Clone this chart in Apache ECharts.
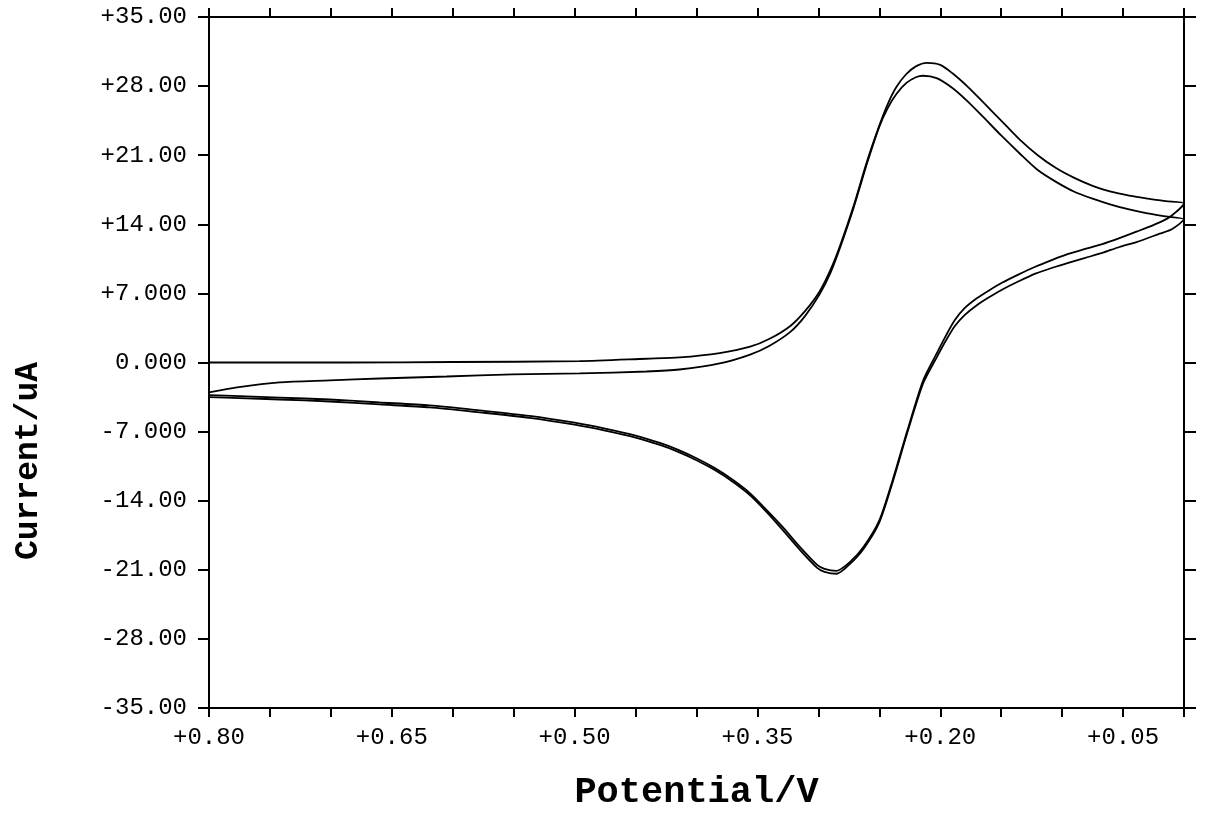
<!DOCTYPE html>
<html>
<head>
<meta charset="utf-8">
<title>Cyclic voltammogram</title>
<script src="https://cdn.jsdelivr.net/npm/echarts@6/dist/echarts.min.js"></script>
<style>
  html, body { margin: 0; padding: 0; background: #fff; }
  #chart { width: 1208px; height: 832px; }
</style>
</head>
<body>
<div id="chart"></div>
<script>
// cycle 1: scan 0.80 -> 0.00 V, then back to 0.80 V
const cycle1Potential = [
  0.800, 0.725, 0.687, 0.600, 0.496, 0.441, 0.414, 0.381, 0.356, 0.340,
  0.323, 0.311, 0.299, 0.290, 0.282, 0.271, 0.260, 0.250, 0.243, 0.236,
  0.228, 0.220, 0.211, 0.200, 0.190, 0.178, 0.165, 0.150, 0.135, 0.120,
  0.105, 0.090, 0.075, 0.060, 0.045, 0.030, 0.015, 0.000,
  0.010, 0.020, 0.039, 0.053, 0.067, 0.081, 0.095, 0.108, 0.122, 0.136,
  0.149, 0.160, 0.170, 0.180, 0.188, 0.195, 0.203, 0.214, 0.227, 0.239,
  0.250, 0.263, 0.274, 0.285, 0.295, 0.301, 0.315, 0.329, 0.342, 0.356,
  0.370, 0.385, 0.400, 0.415, 0.430, 0.450, 0.475, 0.500, 0.537, 0.578,
  0.619, 0.660, 0.701, 0.742, 0.775, 0.800
];
const cycle1Current = [
  0.00, 0.00, 0.00, 0.05, 0.13, 0.38, 0.51, 0.95, 1.6, 2.4,
  3.7, 5.2, 7.2, 9.4, 11.9, 15.9, 20.4, 24.0, 26.2, 27.9,
  29.2, 30.0, 30.35, 30.15, 29.3, 28.0, 26.4, 24.5, 22.6, 21.0,
  19.7, 18.7, 17.9, 17.3, 16.9, 16.6, 16.35, 16.1,
  14.9, 14.2, 13.25, 12.6, 12.0, 11.5, 11.0, 10.4, 9.7, 8.9,
  8.1, 7.3, 6.5, 5.5, 4.3, 2.8, 0.9, -1.8, -6.9, -11.9,
  -16.0, -18.7, -20.2, -21.1, -20.9, -20.5, -18.7, -16.7, -15.0, -13.25,
  -11.9, -10.7, -9.7, -8.85, -8.15, -7.4, -6.7, -6.1, -5.4, -4.85,
  -4.35, -4.05, -3.75, -3.55, -3.4, -3.3
];

// cycle 2
const cycle2Potential = [
  0.800, 0.777, 0.742, 0.701, 0.660, 0.605, 0.551, 0.496, 0.441, 0.414,
  0.381, 0.356, 0.340, 0.323, 0.311, 0.299, 0.290, 0.282, 0.271, 0.260,
  0.250, 0.243, 0.236, 0.228, 0.220, 0.214, 0.203, 0.190, 0.178, 0.165,
  0.150, 0.135, 0.120, 0.105, 0.090, 0.075, 0.060, 0.045, 0.030, 0.015, 0.000,
  0.010, 0.020, 0.039, 0.053, 0.067, 0.081, 0.095, 0.108, 0.122, 0.136,
  0.149, 0.160, 0.170, 0.180, 0.188, 0.195, 0.203, 0.214, 0.227, 0.239,
  0.250, 0.263, 0.274, 0.285, 0.295, 0.301, 0.315, 0.329, 0.342, 0.356,
  0.370, 0.385, 0.400, 0.415, 0.430, 0.450, 0.475, 0.500, 0.537, 0.578,
  0.619, 0.660, 0.701, 0.742, 0.775, 0.800
];
const cycle2Current = [
  -3.03, -2.53, -2.02, -1.82, -1.62, -1.42, -1.21, -1.11, -0.91, -0.71,
  -0.1, 0.8, 1.7, 3.1, 4.7, 6.9, 9.1, 11.7, 15.7, 20.2,
  23.9, 25.8, 27.2, 28.3, 28.9, 29.05, 28.8, 27.8, 26.5, 24.9,
  23.0, 21.2, 19.5, 18.3, 17.3, 16.6, 16.0, 15.5, 15.1, 14.8, 14.5,
  13.5, 13.05, 12.2, 11.7, 11.1, 10.6, 10.1, 9.6, 9.0, 8.2,
  7.4, 6.6, 5.8, 4.8, 3.7, 2.3, 0.5, -2.1, -7.1, -12.1,
  -16.2, -18.9, -20.4, -21.4, -21.2, -20.8, -19.0, -17.0, -15.2, -13.45,
  -12.1, -10.9, -9.9, -9.05, -8.35, -7.6, -6.9, -6.3, -5.6, -5.05,
  -4.55, -4.25, -3.95, -3.75, -3.6, -3.5
];

const yTickLabels = {
  '-35': '-35.00', '-28': '-28.00', '-21': '-21.00', '-14': '-14.00', '-7': '-7.000',
  '0': '0.000', '7': '+7.000', '14': '+14.00', '21': '+21.00', '28': '+28.00', '35': '+35.00'
};
const xLabelValues = [0.80, 0.65, 0.50, 0.35, 0.20, 0.05];

const zip = (xs, ys) => xs.map((x, i) => [x, ys[i]]);

const chart = echarts.init(document.getElementById('chart'), null, { renderer: 'canvas' });

const tickFont = { fontFamily: 'Liberation Mono', fontSize: 24, color: '#000' };
const blackLine = { show: true, onZero: false, lineStyle: { color: '#000', width: 2 } };

const option = {
  backgroundColor: '#fff',
  animation: false,
  grid: { left: 209, right: 24, top: 17, bottom: 124, containLabel: false },
  xAxis: [
    {
      type: 'value',
      position: 'bottom',
      inverse: true,
      min: 0,
      max: 0.8,
      interval: 0.05,
      name: 'Potential/V',
      nameLocation: 'middle',
      nameGap: 66,
      nameTextStyle: { fontFamily: 'Liberation Mono', fontWeight: 'bold', fontSize: 37, color: '#000' },
      axisLine: blackLine,
      axisTick: { show: true, inside: false, length: 9, lineStyle: { color: '#000', width: 2 } },
      axisLabel: Object.assign({
        margin: 18,
        formatter: function (v) {
          const hit = xLabelValues.some((t) => Math.abs(t - v) < 1e-6);
          return hit ? '+' + v.toFixed(2) : '';
        }
      }, tickFont),
      splitLine: { show: false }
    },
    {
      type: 'value',
      position: 'top',
      inverse: true,
      min: 0,
      max: 0.8,
      interval: 0.05,
      axisLine: blackLine,
      axisTick: { show: true, inside: false, length: 9, lineStyle: { color: '#000', width: 2 } },
      axisLabel: { show: false },
      splitLine: { show: false }
    }
  ],
  yAxis: [
    {
      type: 'value',
      position: 'left',
      min: -35,
      max: 35,
      interval: 7,
      axisLine: blackLine,
      axisTick: { show: true, inside: false, length: 11, lineStyle: { color: '#000', width: 2 } },
      axisLabel: Object.assign({
        margin: 22,
        formatter: function (v) { return yTickLabels[String(Math.round(v))] || ''; }
      }, tickFont),
      splitLine: { show: false }
    },
    {
      type: 'value',
      position: 'right',
      min: -35,
      max: 35,
      interval: 7,
      axisLine: blackLine,
      axisTick: { show: true, inside: false, length: 12, lineStyle: { color: '#000', width: 2 } },
      axisLabel: { show: false },
      splitLine: { show: false }
    }
  ],
  graphic: [
    {
      type: 'text',
      left: 12,
      top: 362,
      rotation: Math.PI / 2,
      style: {
        text: 'Current/uA',
        fontFamily: 'Liberation Mono',
        fontWeight: 'bold',
        fontSize: 33,
        fill: '#000'
      }
    }
  ],
  series: [
    {
      name: 'Cycle 1',
      type: 'line',
      data: zip(cycle1Potential, cycle1Current),
      smooth: 0.25,
      showSymbol: false,
      lineStyle: { color: '#000', width: 1.8 }
    },
    {
      name: 'Cycle 2',
      type: 'line',
      data: zip(cycle2Potential, cycle2Current),
      smooth: 0.25,
      showSymbol: false,
      lineStyle: { color: '#000', width: 1.8 }
    }
  ]
};

chart.setOption(option);
</script>
</body>
</html>
